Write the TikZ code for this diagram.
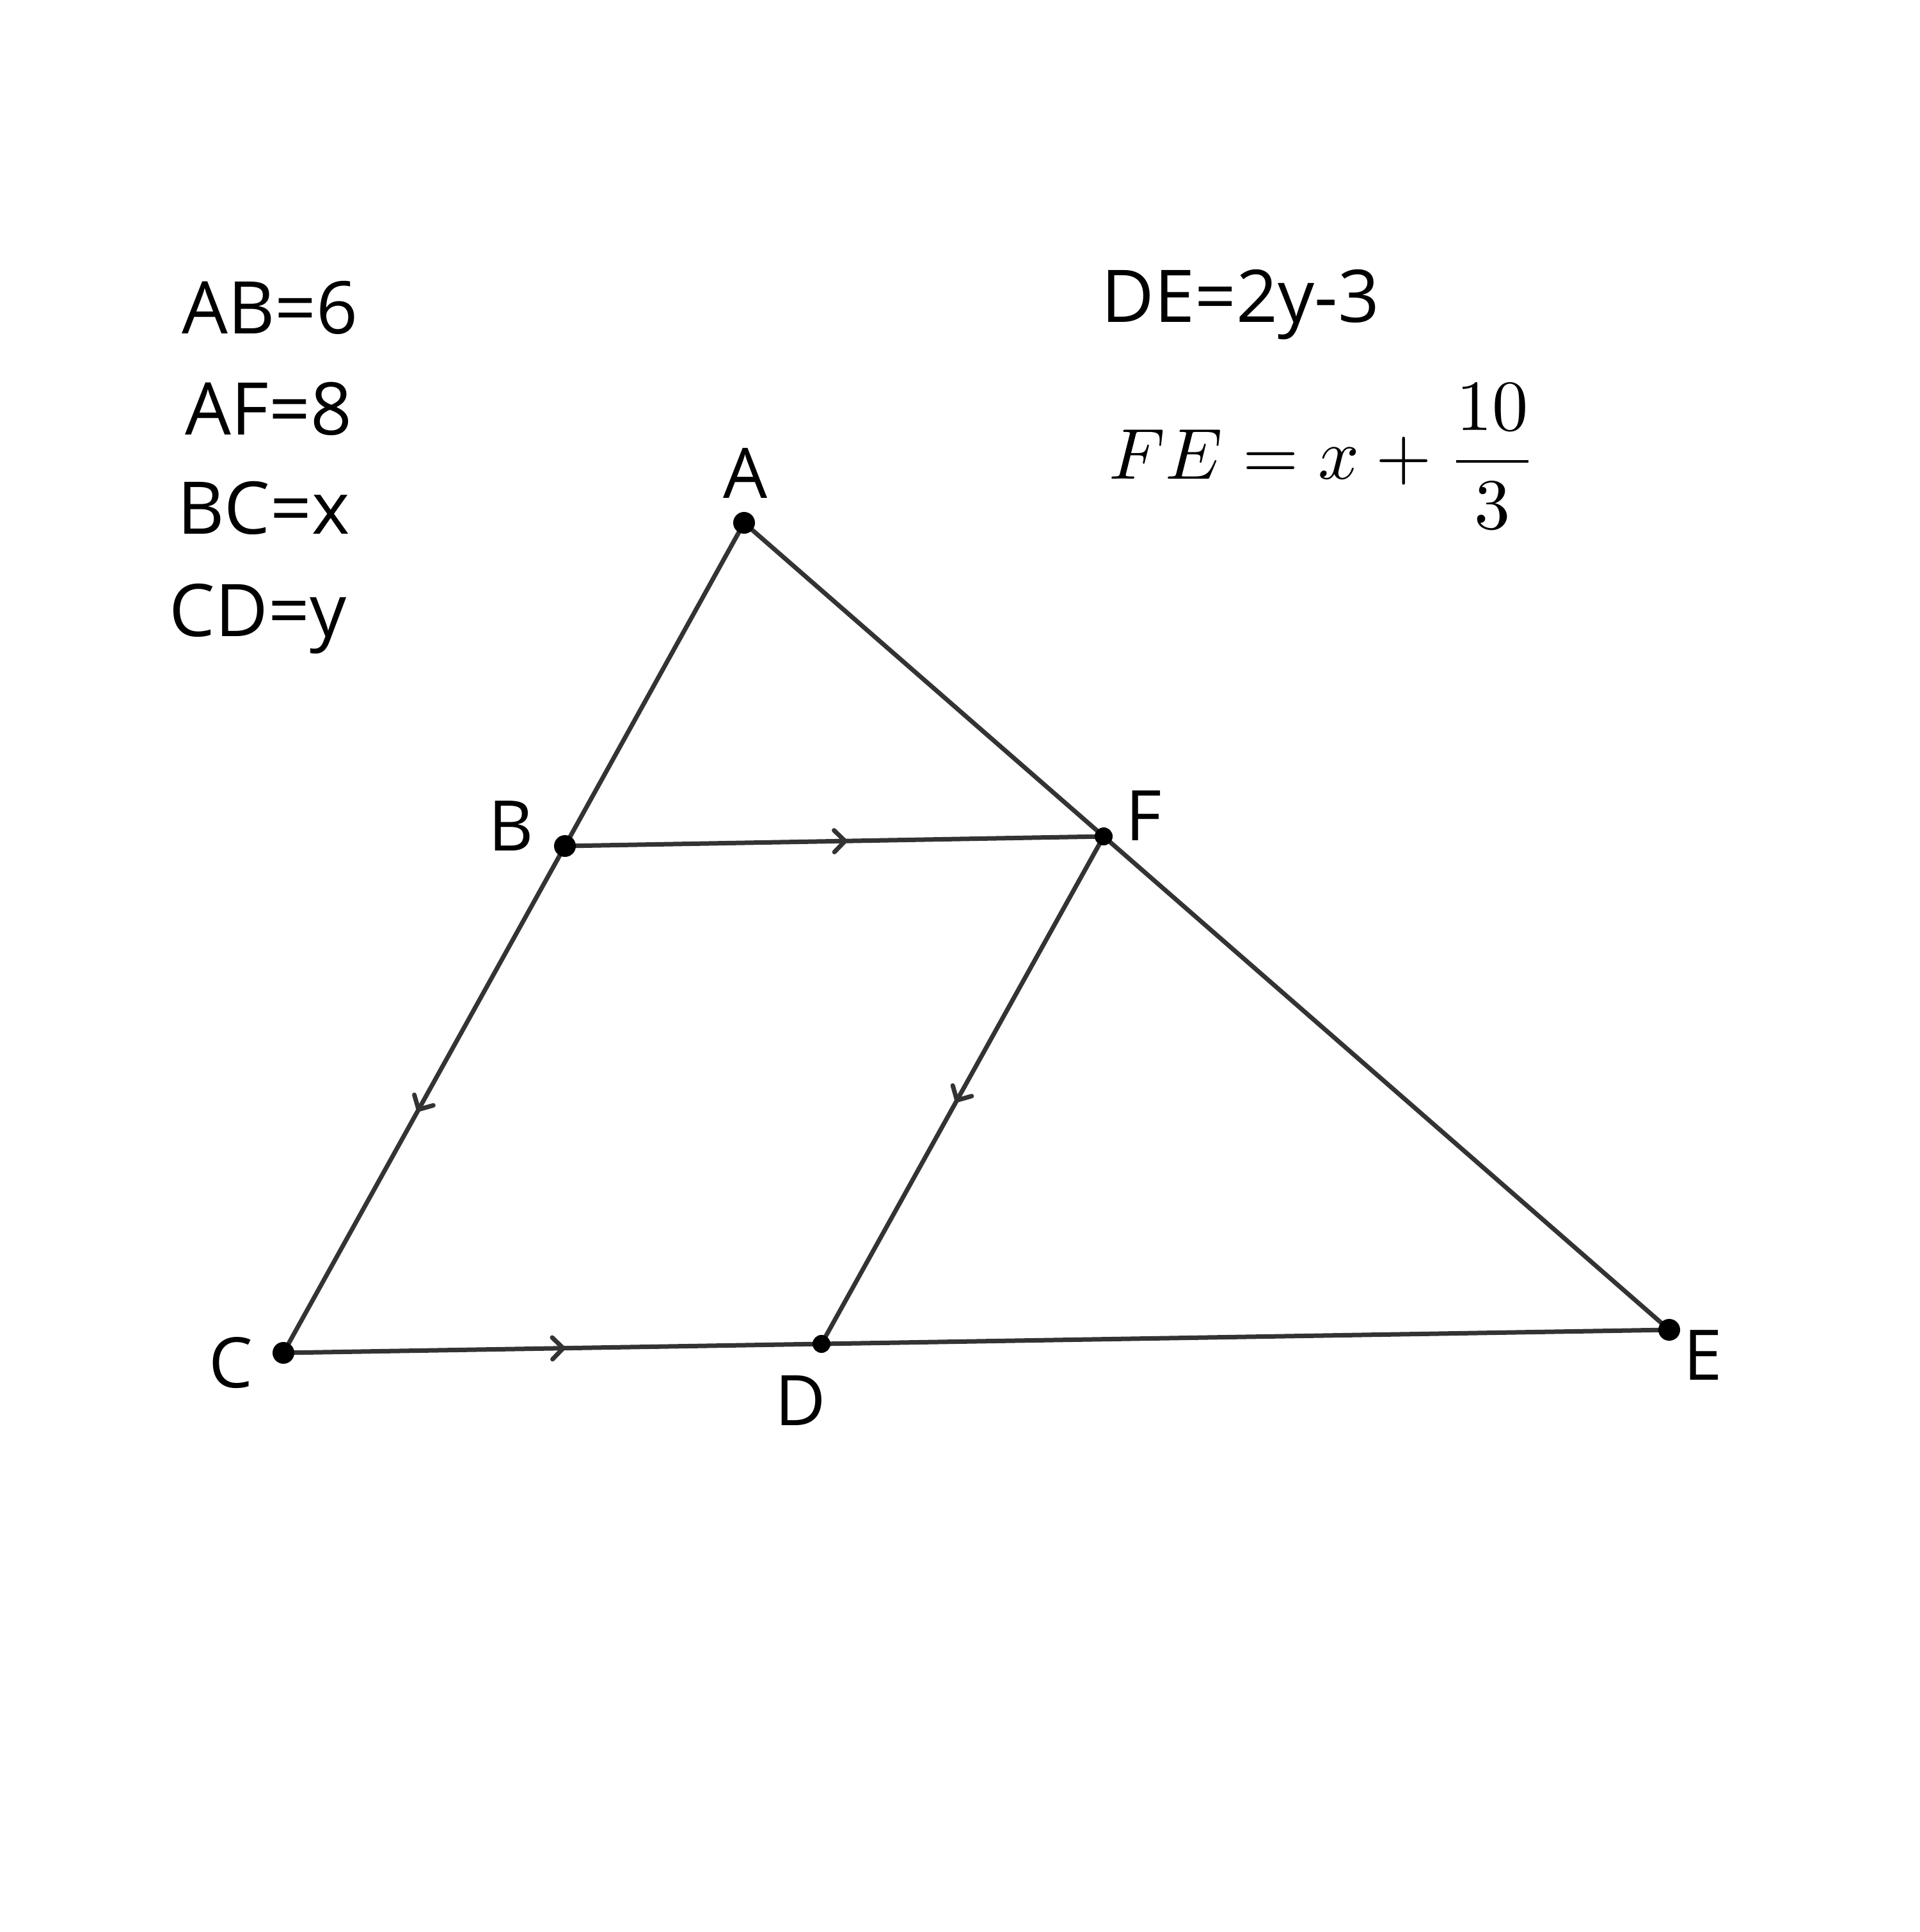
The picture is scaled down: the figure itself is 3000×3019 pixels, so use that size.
\documentclass[tikz,border=0pt]{standalone}
\usepackage[no-math]{fontspec}
\setmainfont{Open Sans}
\usetikzlibrary{decorations.markings}
\definecolor{seg}{HTML}{333333}
\tikzset{
  x=0.01cm, y=-0.01cm,
  seg/.style={draw=seg, line width=0.07cm, line cap=round},
  pt/.style={circle, fill=black, inner sep=0pt, minimum size=0.34cm},
  ptsmall/.style={circle, fill=black, inner sep=0pt, minimum size=0.28cm},
  plabel/.style={anchor=base, inner sep=0pt, font=\fontsize{31}{36}\selectfont},
  info/.style={anchor=base, inner sep=0pt, font=\fontsize{32.3}{38}\selectfont},
  chev/.style={postaction={decorate, decoration={markings, mark=at position 0.52 with {\draw[seg] (-0.17cm,0.17cm) -- (0,0) -- (-0.17cm,-0.17cm);}}}}
}
\begin{document}
\begin{tikzpicture}
\useasboundingbox (0,0) rectangle (3000,3019);
% points
\coordinate (A) at (1163,817);
\coordinate (B) at (883,1322);
\coordinate (F) at (1725,1307);
\coordinate (C) at (443,2114);
\coordinate (D) at (1284,2100);
\coordinate (E) at (2609,2078);
% segments
\draw[seg] (A) -- (B);
\draw[seg] (A) -- (F);
\draw[seg] (F) -- (E);
\draw[seg] (D) -- (E);
\draw[seg, chev] (B) -- (F);
\draw[seg, chev] (C) -- (D);
\draw[seg, chev] (B) -- (C);
\draw[seg, chev] (F) -- (D);
% dots
\node[pt] (dA) at (A) {};
\node[pt] (dB) at (B) {};
\node[ptsmall] (dF) at (F) {};
\node[pt] (dC) at (C) {};
\node[ptsmall] (dD) at (D) {};
\node[pt] (dE) at (E) {};
% point labels
\node[plabel] (lA) at (1165,779) {A};
\node[plabel] (lB) at (799,1329) {B};
\node[plabel] (lF) at (1788,1313) {F};
\node[plabel] (lC) at (361,2168) {C};
\node[plabel] (lD) at (1251,2227) {D};
\node[plabel] (lE) at (2662,2156) {E};
% info texts
\node[info] (t1) at (422,522) {AB=6};
\node[info] (t2) at (420,680) {AF=8};
\node[info] (t3) at (412,834) {BC=x};
\node[info] (t4) at (403,994) {CD=y};
\node[info] (t5) at (1939,504) {DE=2y-3};
\node[anchor=base west, inner sep=0pt, scale=3.2, font=\fontsize{10}{12}\selectfont] (t6) at (1731,749) {$\displaystyle FE=x+\frac{10}{3}$};
\end{tikzpicture}
\end{document}
